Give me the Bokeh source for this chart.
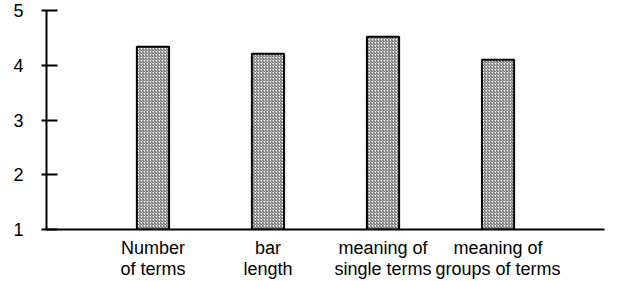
from bokeh.plotting import figure
from bokeh.models import FactorRange, Range1d, FixedTicker
from bokeh.embed import file_html
from bokeh.resources import INLINE

categories = ["Number\nof terms", "bar\nlength", "meaning of\nsingle terms", "meaning of\ngroups of terms"]
scores = [4.34, 4.21, 4.52, 4.10]
y_ticks = [1, 2, 3, 4, 5]

FONT = "Liberation Sans"

p = figure(width=619, height=281, output_backend="svg", toolbar_location=None,
           x_range=FactorRange(*categories, range_padding=0.2128),
           y_range=Range1d(1, 5),
           min_border_left=46, min_border_top=10, min_border_right=15, min_border_bottom=52)
p.outline_line_color = None
p.xgrid.grid_line_color = None
p.ygrid.grid_line_color = None
p.background_fill_color = "white"
p.border_fill_color = "white"

p.vbar(x=categories, top=scores, bottom=1, width=0.28,
       fill_color="white", line_color="black", line_width=2,
       hatch_pattern="/", hatch_color="#555555", hatch_scale=3, hatch_weight=1)

ya = p.yaxis[0]
ya.ticker = FixedTicker(ticks=y_ticks)
ya.axis_line_width = 2
ya.major_tick_line_width = 2
ya.major_tick_in = 11
ya.major_tick_out = 5
ya.minor_tick_line_color = None
ya.major_label_standoff = 18
ya.major_label_text_font = FONT
ya.major_label_text_font_size = "18px"
ya.major_label_text_color = "black"

xa = p.xaxis[0]
xa.axis_line_width = 2
xa.major_tick_line_color = None
xa.major_tick_in = 0
xa.major_tick_out = 0
xa.minor_tick_line_color = None
xa.major_label_standoff = 8
xa.major_label_text_font = FONT
xa.major_label_text_font_size = "18px"
xa.major_label_text_color = "black"
xa.major_label_text_line_height = 1.05

open("out.html", "w").write(file_html(p, INLINE))
